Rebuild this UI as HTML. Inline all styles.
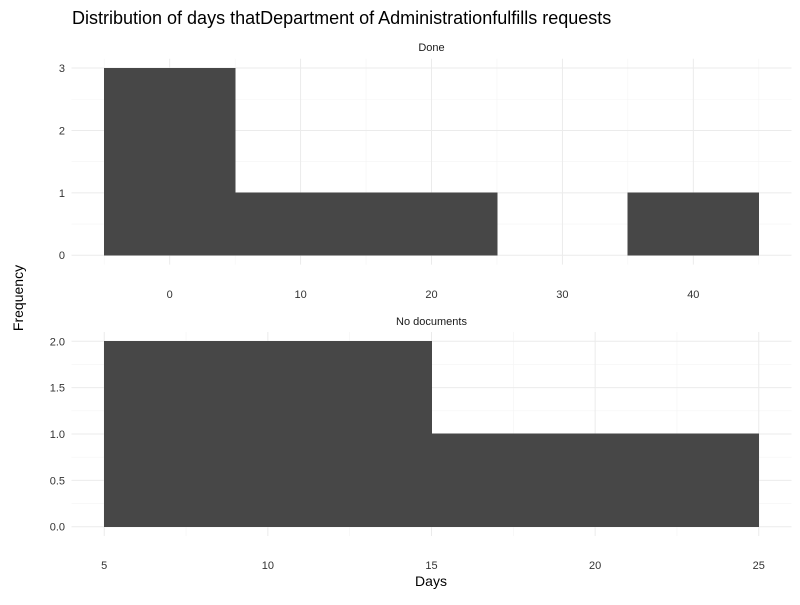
<!DOCTYPE html>
<html><head><meta charset="utf-8"><style>body{margin:0;background:#fff}svg{font-family:"Liberation Sans",sans-serif}</style></head>
<body>
<svg id="c" width="800" height="600"></svg>
<script>
const titleText = "Distribution of days thatDepartment of Administrationfulfills requests";
const doneBinStarts = [-5, 5, 15, 25, 35];
const doneCounts = [3, 1, 1, 0, 1];
const doneXTicks = [0, 10, 20, 30, 40];
const doneYTicks = [0, 1, 2, 3];
const noDocBinStarts = [5, 15];
const noDocCounts = [2, 1];
const noDocXTicks = [5, 10, 15, 20, 25];
const noDocYTicks = ["0.0", "0.5", "1.0", "1.5", "2.0"];
const binWidth = [10, 10];

const NS = "http://www.w3.org/2000/svg";
const svg = document.getElementById('c');
function mk(tag, attrs, parent) {
  const e = document.createElementNS(NS, tag);
  for (const k in attrs) e.setAttribute(k, attrs[k]);
  (parent || svg).appendChild(e);
  return e;
}
function panel(name, strip, starts, counts, bw, xt, yt, px0, px1, py0, py1, stripY, xTickY) {
  const xmin = starts[0], xmax = starts[starts.length - 1] + bw;
  const ymax = Math.max(...counts);
  const xr = xmax - xmin, ex = xr * 0.05;
  const X = v => px0 + (v - (xmin - ex)) / (xr + 2 * ex) * (px1 - px0);
  const Y = v => py1 - (v + ymax * 0.05) / (ymax * 1.1) * (py1 - py0);
  const g = mk('g', {});
  
  
  const ytv = yt.map(Number);
  for (let i = 0; i < xt.length - 1; i++) {
    const m = (xt[i] + xt[i + 1]) / 2;
    mk('line', {x1: X(m), x2: X(m), y1: py0, y2: py1, stroke: '#f4f4f4', 'stroke-width': 0.6}, g);
  }
  const dxt = xt[1] - xt[0];
  [xt[0] - dxt / 2, xt[xt.length - 1] + dxt / 2].forEach(m => { if (X(m) >= px0 && X(m) <= px1) mk('line', {x1: X(m), x2: X(m), y1: py0, y2: py1, stroke: '#f4f4f4', 'stroke-width': 0.6}, g); });
  for (let i = 0; i < ytv.length - 1; i++) {
    const m = (ytv[i] + ytv[i + 1]) / 2;
    mk('line', {x1: px0, x2: px1, y1: Y(m), y2: Y(m), stroke: '#f4f4f4', 'stroke-width': 0.6}, g);
  }
  xt.forEach(v => mk('line', {x1: X(v), x2: X(v), y1: py0, y2: py1, stroke: '#ebebeb', 'stroke-width': 1}, g));
  ytv.forEach(v => mk('line', {x1: px0, x2: px1, y1: Y(v), y2: Y(v), stroke: '#ebebeb', 'stroke-width': 1}, g));
  starts.forEach((s, i) => {
    if (counts[i] <= 0) return;
    const r = mk('rect', {x: X(s), y: Y(counts[i]), width: X(s + bw) - X(s), height: Y(0) - Y(counts[i]), fill: '#474747', stroke: '#474747', 'stroke-width': 0.6, 'shape-rendering': 'crispEdges'}, g);
    
    
  });
  xt.forEach(v => { const t = mk('text', {x: X(v), y: xTickY, 'text-anchor': 'middle', 'font-size': 11, fill: '#333'}, g); t.textContent = v;
      });
  yt.forEach(v => { const t = mk('text', {x: 65, y: Y(Number(v)) + 4, 'text-anchor': 'end', 'font-size': 11, fill: '#333'}, g); t.textContent = v;
      });
  const st = mk('text', {x: (px0 + px1) / 2, y: stripY, 'text-anchor': 'middle', 'font-size': 11, fill: '#1a1a1a'}, g);
  st.textContent = strip;
  
  
}
panel('done', 'Done', doneBinStarts, doneCounts, binWidth[0], doneXTicks, doneYTicks, 71.5, 791.5, 58.7, 264.6, 51, 298);
panel('no-documents', 'No documents', noDocBinStarts, noDocCounts, binWidth[1], noDocXTicks, noDocYTicks, 71.5, 791.5, 332, 536, 325, 569);
let t = mk('text', {x: 72, y: 24, 'font-size': 18, fill: '#000'}); t.textContent = titleText;
 
t = mk('text', {x: 431, y: 586, 'text-anchor': 'middle', 'font-size': 14, fill: '#000'}); t.textContent = 'Days';
 
t = mk('text', {x: 23, y: 298, 'text-anchor': 'middle', 'font-size': 14, fill: '#000', transform: 'rotate(-90 23 298)'}); t.textContent = 'Frequency';
 
</script>
</body></html>
